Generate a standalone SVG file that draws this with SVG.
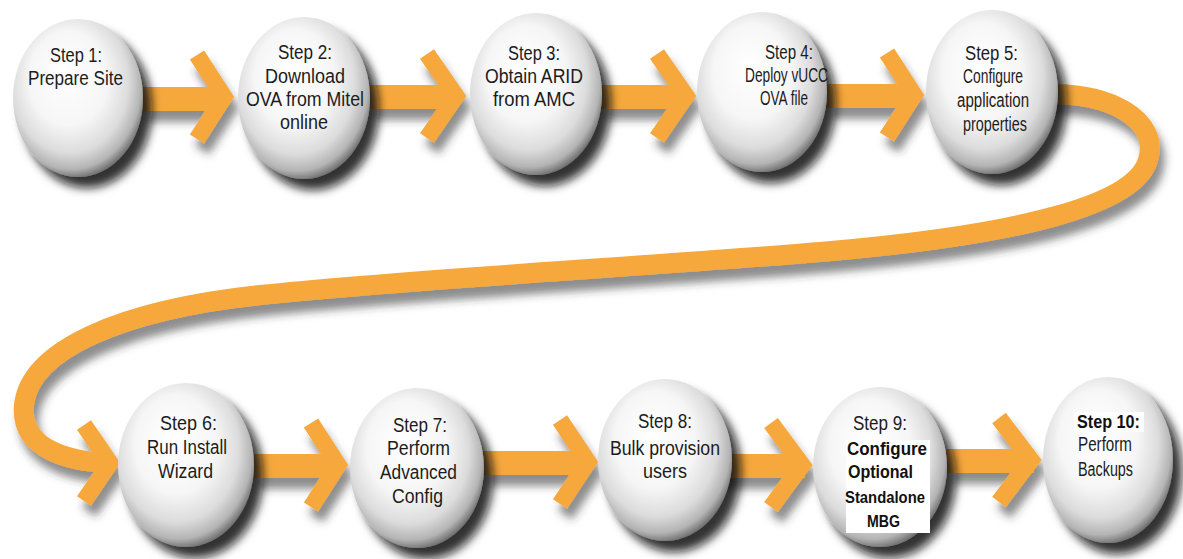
<svg xmlns="http://www.w3.org/2000/svg" width="1183" height="559" viewBox="0 0 1183 559">
<style>
.ball{fill:url(#ballGrad);filter:url(#ballShadow)}
.t{font-family:"Liberation Sans",Arial,sans-serif;font-size:19.5px;fill:#1c1c1c}
.b{font-family:"Liberation Sans",Arial,sans-serif;font-weight:bold;font-size:18.5px;fill:#111}
.bn{font-family:"Liberation Sans",Arial,sans-serif;font-weight:bold;font-size:17px;fill:#111}
.bar{fill:#F6A83C}
.chev{fill:none;stroke:#F6A83C;stroke-width:17;stroke-linejoin:miter;stroke-miterlimit:10}
.curve{fill:none;stroke:#F6A83C;stroke-width:20;stroke-linecap:butt}
</style>
<defs>
<radialGradient id="ballGrad" cx="0.45" cy="0.42" r="0.6" fx="0.4" fy="0.33">
<stop offset="0" stop-color="#ffffff"/>
<stop offset="0.5" stop-color="#f6f6f6"/>
<stop offset="0.75" stop-color="#dcdcdc"/>
<stop offset="0.9" stop-color="#b4b4b4"/>
<stop offset="1" stop-color="#666666"/>
</radialGradient>
<filter id="ballShadow" x="-30%" y="-30%" width="170%" height="170%">
<feDropShadow dx="9" dy="11" stdDeviation="5" flood-color="#111" flood-opacity="0.85"/>
</filter>
<filter id="arrowShadow" x="-20%" y="-30%" width="140%" height="180%">
<feDropShadow dx="5" dy="11" stdDeviation="4" flood-color="#333" flood-opacity="0.55"/>
</filter>
</defs>
<rect width="1183" height="559" fill="#ffffff"/>

<g id="connectors" filter="url(#arrowShadow)">
<path class="curve" d="M 1045 94 C 1110 92, 1160 120, 1148 160 C 1135 205, 1020 235, 820 252 C 650 266, 400 280, 260 295 C 120 310, 30 350, 24 405 C 20 450, 70 462, 112 463"/>
<polyline class="chev" points="84,425 110,463 84,501"/>
<rect class="bar" x="140" y="87" width="85" height="24"/>
<polyline class="chev" points="197,55 224,97 197,139"/>
<rect class="bar" x="368" y="85" width="90" height="24"/>
<polyline class="chev" points="427,54 456,96 427,138"/>
<rect class="bar" x="600" y="85" width="88" height="24"/>
<polyline class="chev" points="657,54 686,96 657,138"/>
<rect class="bar" x="826" y="84" width="89" height="24"/>
<polyline class="chev" points="887,53 914,95 887,137"/>
<rect class="bar" x="252" y="454" width="88" height="24"/>
<polyline class="chev" points="311,423 338,465 311,507"/>
<rect class="bar" x="482" y="451" width="108" height="24"/>
<polyline class="chev" points="560,420 588,462 560,504"/>
<rect class="bar" x="710" y="454" width="95" height="24"/>
<polyline class="chev" points="771,423 802,465 771,507"/>
<rect class="bar" x="946" y="449" width="88" height="24"/>
<polyline class="chev" points="999,418 1031,460 999,502"/>
</g>

<g id="step1"><ellipse class="ball" cx="78" cy="98" rx="65" ry="79"/>
<text class="t" x="50" y="62" textLength="52" lengthAdjust="spacingAndGlyphs">Step 1:</text>
<text class="t" x="28" y="85" textLength="95" lengthAdjust="spacingAndGlyphs">Prepare Site</text></g>

<g id="step2"><ellipse class="ball" cx="304" cy="98" rx="66" ry="81"/>
<text class="t" x="278" y="59" textLength="54" lengthAdjust="spacingAndGlyphs">Step 2:</text>
<text class="t" x="265" y="83" textLength="80" lengthAdjust="spacingAndGlyphs">Download</text>
<text class="t" x="246" y="106" textLength="118" lengthAdjust="spacingAndGlyphs">OVA from Mitel</text>
<text class="t" x="280" y="129" textLength="48" lengthAdjust="spacingAndGlyphs">online</text></g>

<g id="step3"><ellipse class="ball" cx="536" cy="94" rx="66" ry="81"/>
<text class="t" x="508" y="60" textLength="52" lengthAdjust="spacingAndGlyphs">Step 3:</text>
<text class="t" x="485" y="83" textLength="98" lengthAdjust="spacingAndGlyphs">Obtain ARID</text>
<text class="t" x="493" y="106" textLength="82" lengthAdjust="spacingAndGlyphs">from AMC</text></g>

<g id="step4"><ellipse class="ball" cx="762" cy="92" rx="65" ry="80"/>
<text class="t" x="765" y="59" textLength="48" lengthAdjust="spacingAndGlyphs">Step 4:</text>
<text class="t" x="745" y="82" textLength="83" lengthAdjust="spacingAndGlyphs">Deploy vUCC</text>
<text class="t" x="760" y="105" textLength="48" lengthAdjust="spacingAndGlyphs">OVA  file</text></g>

<g id="step5"><ellipse class="ball" cx="992" cy="92" rx="66" ry="82"/>
<text class="t" x="965" y="60" textLength="53" lengthAdjust="spacingAndGlyphs">Step 5:</text>
<text class="t" x="963" y="83" textLength="60" lengthAdjust="spacingAndGlyphs">Configure</text>
<text class="t" x="957" y="107" textLength="72" lengthAdjust="spacingAndGlyphs">application</text>
<text class="t" x="963" y="131" textLength="64" lengthAdjust="spacingAndGlyphs">properties</text></g>

<g id="step6"><ellipse class="ball" cx="186" cy="465" rx="68" ry="82"/>
<text class="t" x="160" y="430" textLength="57" lengthAdjust="spacingAndGlyphs">Step 6:</text>
<text class="t" x="147" y="454" textLength="80" lengthAdjust="spacingAndGlyphs">Run Install</text>
<text class="t" x="158" y="478" textLength="55" lengthAdjust="spacingAndGlyphs">Wizard</text></g>

<g id="step7"><ellipse class="ball" cx="417" cy="468" rx="67" ry="80"/>
<text class="t" x="393" y="432" textLength="54" lengthAdjust="spacingAndGlyphs">Step 7:</text>
<text class="t" x="387" y="455" textLength="63" lengthAdjust="spacingAndGlyphs">Perform</text>
<text class="t" x="380" y="479" textLength="77" lengthAdjust="spacingAndGlyphs">Advanced</text>
<text class="t" x="392" y="503" textLength="51" lengthAdjust="spacingAndGlyphs">Config</text></g>

<g id="step8"><ellipse class="ball" cx="665" cy="460" rx="67" ry="81"/>
<text class="t" x="638" y="428" textLength="54" lengthAdjust="spacingAndGlyphs">Step 8:</text>
<text class="t" x="610" y="455" textLength="110" lengthAdjust="spacingAndGlyphs">Bulk provision</text>
<text class="t" x="643" y="478" textLength="44" lengthAdjust="spacingAndGlyphs">users</text></g>

<g id="step9"><ellipse class="ball" cx="880" cy="467" rx="67" ry="80"/>
<rect x="846" y="440" width="84" height="93" fill="#ffffff"/>
<text class="t" x="853" y="430" textLength="54" lengthAdjust="spacingAndGlyphs">Step 9:</text>
<text class="b" x="847" y="455" textLength="80" lengthAdjust="spacingAndGlyphs">Configure</text>
<text class="b" x="848" y="478" textLength="65" lengthAdjust="spacingAndGlyphs">Optional</text>
<text class="bn" x="845" y="503" textLength="80" lengthAdjust="spacingAndGlyphs">Standalone</text>
<text class="bn" x="867" y="527" textLength="33" lengthAdjust="spacingAndGlyphs">MBG</text></g>

<g id="step10"><ellipse class="ball" cx="1108" cy="460" rx="65" ry="83"/>
<rect x="1074" y="412" width="70" height="20" fill="#ffffff"/>
<text class="b" x="1077" y="428" textLength="63" lengthAdjust="spacingAndGlyphs">Step 10:</text>
<text class="t" x="1078" y="451" textLength="54" lengthAdjust="spacingAndGlyphs">Perform</text>
<text class="t" x="1078" y="476" textLength="55" lengthAdjust="spacingAndGlyphs">Backups</text></g>
</svg>
